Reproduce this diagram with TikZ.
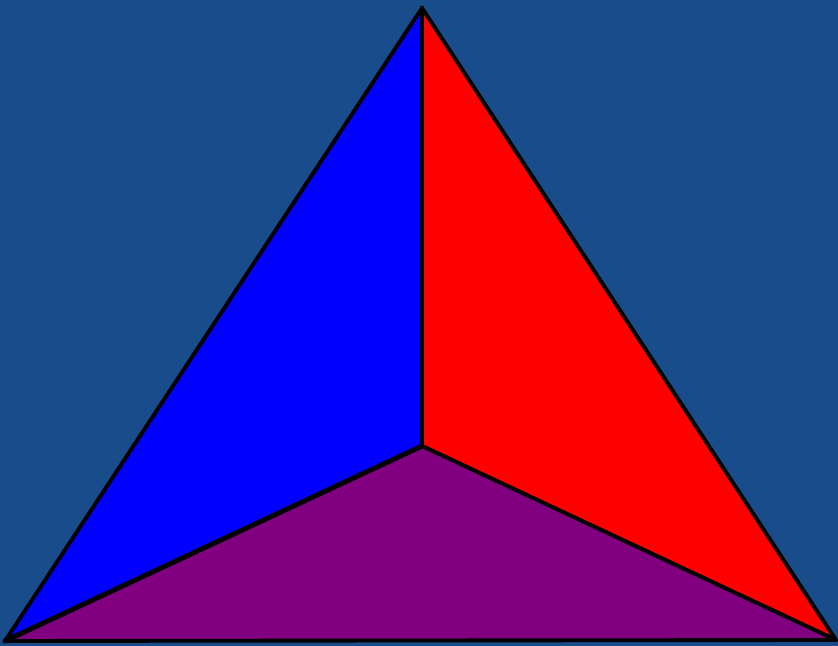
\documentclass[tikz,border=0pt]{standalone}
\usepackage{tikz}
\usetikzlibrary{calc}
\usepackage{xcolor}
\definecolor{bgblue}{RGB}{24,76,138}
\definecolor{faceblue}{RGB}{0,0,255}
\definecolor{facered}{RGB}{255,0,0}
\definecolor{facepurple}{RGB}{128,0,128}

\begin{document}
\begin{tikzpicture}[x=0.01cm,y=-0.01cm,
    face/.style={draw=black,line width=1.1pt,line join=round}]
  % background
  \fill[bgblue] (0,0) rectangle (838,646);
  \useasboundingbox (0,0) rectangle (838,646);
  % corners of the pyramid
  \coordinate (top) at (422,8);
  \coordinate (left) at (5,641);
  \coordinate (right) at (836,640);
  \coordinate (mid) at (422,446);
  % faces
  \draw[face,fill=faceblue] (top)--(mid)--(left)--cycle;
  \draw[face,fill=facered] (top)--(right)--(mid)--cycle;
  \draw[face,fill=facepurple] (mid)--(right)--(left)--cycle;
  % inner edges
  \draw[line width=1.4pt,line cap=round] (top)--(mid);
  \draw[line width=1.4pt,line cap=round] (left)--(mid);
\end{tikzpicture}
\end{document}
